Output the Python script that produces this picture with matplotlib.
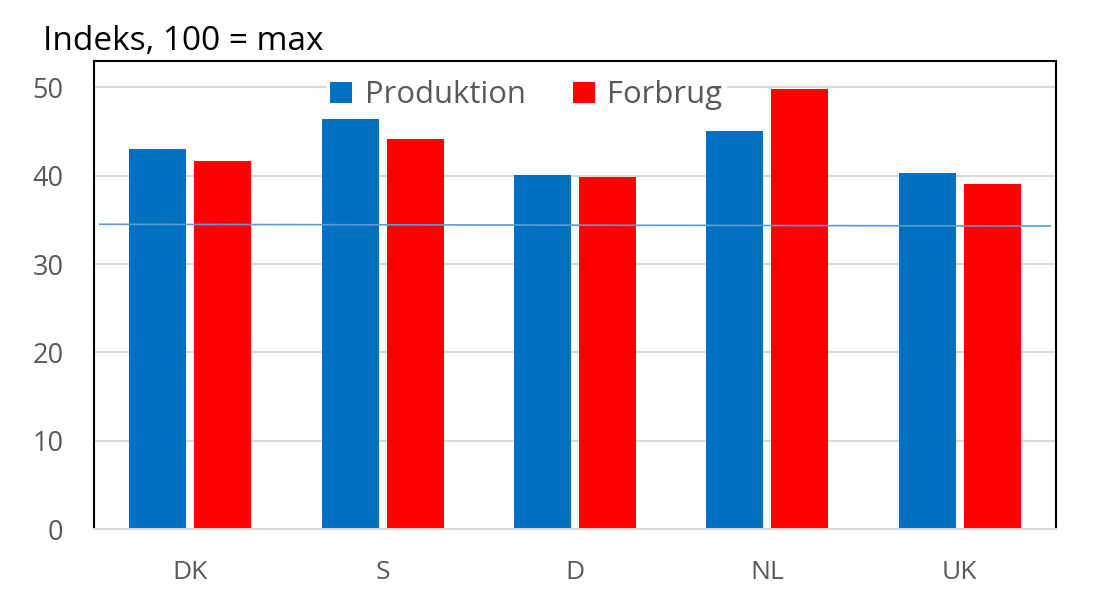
import matplotlib.pyplot as plt
import numpy as np

plt.rcParams['font.family'] = ['Open Sans', 'DejaVu Sans']

lande = ["DK", "S", "D", "NL", "UK"]
produktion = [43.0, 46.4, 40.1, 45.1, 40.3]
forbrug = [41.7, 44.1, 39.8, 49.8, 39.1]
# thin reference line across the chart
ref_x = [-0.47, 4.47]
ref_y = [34.5, 34.3]

blaa = "#0070C0"
roed = "#FF0000"
tekst = "#595959"

fig = plt.figure(figsize=(11, 6), dpi=100)
ax = fig.add_axes([0.0855, 0.118, 0.8745, 0.780])

x = np.arange(len(lande))
w = 0.297
ax.bar(x - 0.169, produktion, w, color=blaa, label="Produktion", zorder=2)
ax.bar(x + 0.169, forbrug, w, color=roed, label="Forbrug", zorder=2)
ax.plot(ref_x, ref_y, color="#5B9BD5", lw=1.2, zorder=3)

ax.set_xlim(-0.5, 4.5)
ax.set_ylim(0, 52.95)
ax.set_yticks([0, 10, 20, 30, 40, 50])
ax.set_xticks(x)
ax.set_xticklabels(lande)
ax.yaxis.grid(True, color="#D9D9D9", lw=1.5, zorder=0)
ax.tick_params(axis="both", length=0, colors=tekst)
ax.tick_params(axis="x", pad=22, labelsize=19)
ax.tick_params(axis="y", pad=22, labelsize=19.5)

for side in ["left", "top", "right"]:
    ax.spines[side].set_color("black")
    ax.spines[side].set_linewidth(1.5)
ax.spines["bottom"].set_color("#D9D9D9")
ax.spines["bottom"].set_linewidth(1.5)

leg = ax.legend(loc="upper center", bbox_to_anchor=(0.4495, 0.972), ncol=2,
                fontsize=22.3, frameon=True, fancybox=False, edgecolor="white",
                framealpha=1, handlelength=0.7, handleheight=0.7,
                handletextpad=0.4, columnspacing=1.55, borderpad=0.1,
                borderaxespad=0.1)
leg.set_zorder(1.8)
for t in leg.get_texts():
    t.set_color(tekst)

fig.text(0.039, 0.916, "Indeks, 100 = max", fontsize=24, color="black")

fig.savefig("out.png", dpi=100)
